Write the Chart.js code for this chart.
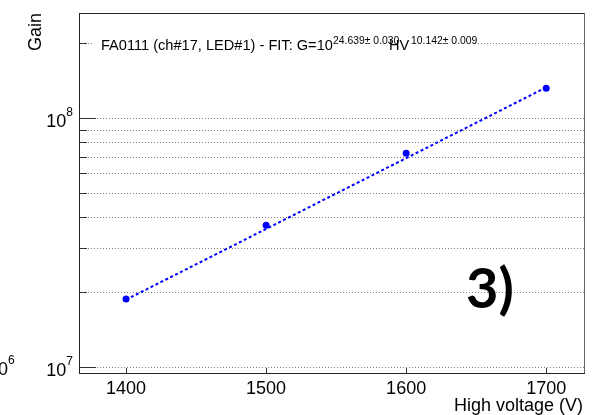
<!DOCTYPE html>
<html>
<head>
<meta charset="utf-8">
<script src="https://cdn.jsdelivr.net/npm/chart.js@4"></script>
<style>
  body { margin: 0; background: #fff; }
  #wrap { width: 607px; height: 415px; }
</style>
</head>
<body>
<div id="wrap"><canvas id="gainChart" width="607" height="415"></canvas></div>
<script>
const BLUE = '#0000ff';
const FONT = '"Liberation Sans", Arial, sans-serif';

// measured points
const hv   = [1400, 1500, 1600, 1700];
const gain = [1.87e7, 3.71e7, 7.23e7, 1.32e8];

// fit line ends
const fitHv   = [1400, 1700];
const fitGain = [1.86e7, 1.33e8];

// axes
const xTicks   = [1400, 1500, 1600, 1700];
const yGrid    = [1e7, 2e7, 3e7, 4e7, 5e7, 6e7, 7e7, 8e7, 9e7, 1e8, 2e8];
const yMajor   = [1e7, 1e8];
const yMajExp  = ['7', '8'];

const pts = (xs, ys) => xs.map((x, i) => ({ x: x, y: ys[i] }));

// frame, dotted grid, ticks, labels - ROOT look
const rootFrame = {
  id: 'rootFrame',
  beforeDatasetsDraw(chart) {
    const { ctx, chartArea: a, scales: { x, y } } = chart;
    ctx.save();
    // dotted grid
    ctx.strokeStyle = '#808080';
    ctx.lineWidth = 1;
    ctx.setLineDash([1, 2]);
    yGrid.forEach(v => {
      const py = Math.round(y.getPixelForValue(v)) + 0.5;
      ctx.beginPath(); ctx.moveTo(a.left, py); ctx.lineTo(a.right, py); ctx.stroke();
    });
    ctx.setLineDash([]);
    // y ticks
    ctx.strokeStyle = '#333';
    yGrid.forEach(v => {
      const py = Math.round(y.getPixelForValue(v)) + 0.5;
      const len = yMajor.includes(v) ? 17 : 8;
      ctx.beginPath(); ctx.moveTo(a.left, py); ctx.lineTo(a.left + len, py); ctx.stroke();
    });
    // x ticks
    xTicks.forEach(v => {
      const px = Math.round(x.getPixelForValue(v)) + 0.5;
      ctx.beginPath(); ctx.moveTo(px, a.bottom); ctx.lineTo(px, a.bottom - 5); ctx.stroke();
    });
    // frame
    ctx.strokeStyle = '#222';
    ctx.strokeRect(Math.round(a.left) + 0.5, Math.round(a.top) + 0.5,
                   Math.round(a.right - a.left), Math.round(a.bottom - a.top));
    ctx.strokeStyle = '#666';
    ctx.beginPath();
    ctx.moveTo(Math.round(a.right) + 0.5, a.top); ctx.lineTo(Math.round(a.right) + 0.5, a.bottom);
    ctx.stroke();

    // fit title on white pave
    ctx.fillStyle = '#fff';
    ctx.fillRect(92, 30, 381, 22);
    ctx.fillStyle = '#000';
    ctx.textBaseline = 'alphabetic';
    ctx.textAlign = 'left';
    ctx.font = '14.6px ' + FONT;
    ctx.fillText('FA0111 (ch#17, LED#1) - FIT: G=10', 101, 50);
    ctx.font = '10.4px ' + FONT;
    ctx.fillText('24.639\u00b1 0.030', 333, 44);
    ctx.font = '14.6px ' + FONT;
    ctx.fillText('HV', 389, 50);
    ctx.font = '10.4px ' + FONT;
    ctx.fillText('10.142\u00b1 0.009', 411, 44);
    ctx.restore();
  },
  afterDraw(chart) {
    const { ctx, chartArea: a, scales: { x, y } } = chart;
    ctx.save();
    ctx.fillStyle = '#000';
    ctx.textBaseline = 'alphabetic';
    // y labels 10^n
    yMajor.forEach((v, i) => {
      const py = y.getPixelForValue(v);
      ctx.font = '12px ' + FONT;
      ctx.textAlign = 'right';
      ctx.fillText(yMajExp[i], a.left - 6, py - 2);
      const we = ctx.measureText(yMajExp[i]).width;
      ctx.font = '18px ' + FONT;
      ctx.fillText('10', a.left - 6 - we, py + 9);
    });
    // cut-off label from neighbouring pad
    ctx.textAlign = 'right';
    ctx.font = '18px ' + FONT;
    ctx.fillText('10', 8, 375);
    ctx.textAlign = 'left';
    ctx.font = '12px ' + FONT;
    ctx.fillText('6', 8, 364);
    // x labels
    ctx.textAlign = 'center';
    ctx.font = '18px ' + FONT;
    xTicks.forEach(v => ctx.fillText(String(v), x.getPixelForValue(v), 394));
    // axis titles
    ctx.textAlign = 'right';
    ctx.fillText('High voltage (V)', 583, 411);
    ctx.save();
    ctx.translate(41, 13);
    ctx.rotate(-Math.PI / 2);
    ctx.textAlign = 'right';
    ctx.fillText('Gain', 0, 0);
    ctx.restore();
    // panel tag
    ctx.textAlign = 'left';
    ctx.font = 'bold 56px Lato, ' + FONT;
    ctx.fillText('3)', 466, 308);
    ctx.restore();
  }
};

new Chart('gainChart', {
  type: 'line',
  data: {
    datasets: [
      {
        data: pts(hv, gain),
        showLine: false,
        pointRadius: 3.5,
        pointBackgroundColor: BLUE,
        pointBorderColor: BLUE,
        pointBorderWidth: 0
      },
      {
        data: pts(fitHv, fitGain),
        borderColor: BLUE,
        borderWidth: 2,
        borderDash: [3, 2.5],
        pointRadius: 0,
        fill: false
      }
    ]
  },
  options: {
    responsive: false,
    devicePixelRatio: 1,
    animation: false,
    layout: { padding: { left: 79, right: 23, top: 13, bottom: 42 } },
    plugins: { legend: { display: false }, tooltip: { enabled: false } },
    scales: {
      x: { type: 'linear', min: 1366.4, max: 1727, display: false },
      y: { type: 'logarithmic', min: 9.43e6, max: 2.65e8, display: false }
    }
  },
  plugins: [rootFrame]
});
</script>
</body>
</html>
